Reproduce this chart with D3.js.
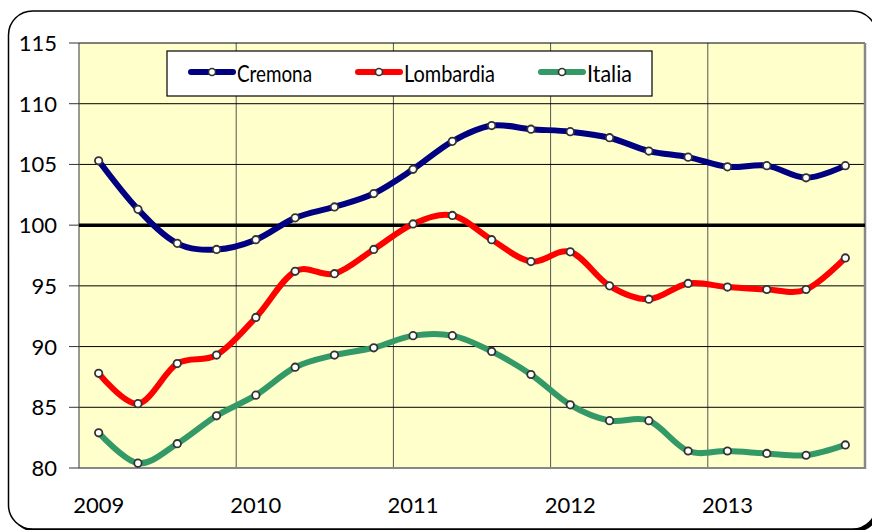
<!DOCTYPE html>
<html><head><meta charset="utf-8">
<script src="https://cdn.jsdelivr.net/npm/d3@7"></script>
<style>html,body{margin:0;padding:0;background:#fff;overflow:hidden}</style>
</head><body><svg id="c" width="872" height="530"></svg>
<script>
const categories = ["2009Q1","2009Q2","2009Q3","2009Q4","2010Q1","2010Q2","2010Q3","2010Q4",
  "2011Q1","2011Q2","2011Q3","2011Q4","2012Q1","2012Q2","2012Q3","2012Q4",
  "2013Q1","2013Q2","2013Q3","2013Q4"];
const yearLabels = ["2009","2010","2011","2012","2013"];
const yTicks = [80,85,90,95,100,105,110,115];
const cremona   = [105.3,101.3,98.5,98.0,98.8,100.6,101.5,102.6,104.6,106.9,108.2,107.9,107.7,107.2,106.1,105.6,104.8,104.9,103.9,104.9];
const lombardia = [87.8,85.3,88.6,89.3,92.4,96.2,96.0,98.0,100.1,100.8,98.8,97.0,97.8,95.0,93.9,95.2,94.9,94.7,94.7,97.3];
const italia    = [82.9,80.4,82.0,84.3,86.0,88.3,89.3,89.9,90.9,90.9,89.6,87.7,85.2,83.9,83.9,81.4,81.4,81.2,81.05,81.9];
const seriesNames = ["Cremona","Lombardia","Italia"];
const seriesColors = ["#000080","#FF0000","#339966"];

const svg = d3.select("#c");
const font = "Lato, 'Open Sans', sans-serif";

// outer frame with shadow
svg.append("rect").attr("x",11.5).attr("y",14).attr("width",868).attr("height",518).attr("rx",24).attr("fill","#000");
svg.append("rect").attr("x",8.5).attr("y",11).attr("width",868).attr("height",518).attr("rx",24)
  .attr("fill","#fff").attr("stroke","#000").attr("stroke-width",1.5);

const L=79, R=865, T=43, B=468;
const x = d3.scaleBand().domain(categories).range([L,R]).padding(0);
const y = d3.scaleLinear().domain([80,115]).range([B,T]);
const cx = c => x(c) + x.bandwidth()/2;

// plot area
svg.append("rect").attr("x",L).attr("y",T).attr("width",R-L).attr("height",B-T).attr("fill","#FFFFCC");

// vertical gridlines at year boundaries
svg.append("g").selectAll("line").data(categories.filter((c,i)=>i>0 && i%4===0)).join("line")
  .attr("x1",c=>x(c)).attr("x2",c=>x(c)).attr("y1",T).attr("y2",B)
  .attr("stroke","#555").attr("stroke-width",1);

// horizontal gridlines
svg.append("g").selectAll("line").data(yTicks.filter(v=>v>80 && v!==100)).join("line")
  .attr("x1",L).attr("x2",R).attr("y1",v=>y(v)).attr("y2",v=>y(v))
  .attr("stroke","#000").attr("stroke-width",1);

// borders
svg.append("line").attr("x1",R).attr("x2",R).attr("y1",T).attr("y2",B+1).attr("stroke","#888").attr("stroke-width",2.5);
svg.append("line").attr("x1",L).attr("x2",R+1).attr("y1",B).attr("y2",B).attr("stroke","#888").attr("stroke-width",2);
svg.append("line").attr("x1",L).attr("x2",L).attr("y1",T).attr("y2",B).attr("stroke","#555").attr("stroke-width",1.2);

// 100 baseline
svg.append("line").attr("x1",L).attr("x2",R).attr("y1",y(100)).attr("y2",y(100))
  .attr("stroke","#000").attr("stroke-width",3.5);

// y axis ticks and labels
const ya = svg.append("g");
ya.selectAll("line").data(yTicks).join("line")
  .attr("x1",69).attr("x2",L).attr("y1",v=>y(v)).attr("y2",v=>y(v)).attr("stroke","#333").attr("stroke-width",1);
ya.selectAll("text").data(yTicks).join("text")
  .attr("x",57).attr("y",v=>y(v)+8).attr("text-anchor","end")
  .attr("font-family",font).attr("font-size",22).attr("fill","#000").text(v=>v);

// x labels
svg.append("g").selectAll("text").data(yearLabels).join("text")
  .attr("x",(d,i)=>cx(categories[i*4])).attr("y",513).attr("text-anchor","middle")
  .attr("font-family",font).attr("font-size",22).attr("fill","#000").text(d=>d);

// series
const data = [cremona, lombardia, italia];
const line = d3.line().x((d,i)=>cx(categories[i])).y(d=>y(d)).curve(d3.curveCatmullRom.alpha(0));
data.forEach((vals,k)=>{
  svg.append("path").attr("d",line(vals)).attr("fill","none").attr("stroke",seriesColors[k])
    .attr("stroke-width",6).attr("stroke-linejoin","round").attr("stroke-linecap","round");
});
data.forEach((vals,k)=>{
  svg.append("g").selectAll("circle").data(vals).join("circle")
    .attr("cx",(d,i)=>cx(categories[i])).attr("cy",d=>y(d)).attr("r",3.7)
    .attr("fill","#fff").attr("stroke","#333").attr("stroke-width",1.8);
});

// legend
const lg = svg.append("g");
lg.append("rect").attr("x",167).attr("y",51).attr("width",485).attr("height",45)
  .attr("fill","#fff").attr("stroke","#000").attr("stroke-width",1.2);
const legX = [191,358,541];
const legTextW = [75,91,45];
seriesNames.forEach((n,k)=>{
  lg.append("line").attr("x1",legX[k]).attr("x2",legX[k]+42).attr("y1",72).attr("y2",72)
    .attr("stroke",seriesColors[k]).attr("stroke-width",6).attr("stroke-linecap","round");
  lg.append("circle").attr("cx",legX[k]+21).attr("cy",72).attr("r",3.5)
    .attr("fill","#fff").attr("stroke","#333").attr("stroke-width",1.6);
  lg.append("text").attr("x",legX[k]+46).attr("y",82).attr("font-family",font).attr("font-size",24)
    .attr("textLength",legTextW[k]).attr("lengthAdjust","spacingAndGlyphs").text(n);
});
</script></body></html>
